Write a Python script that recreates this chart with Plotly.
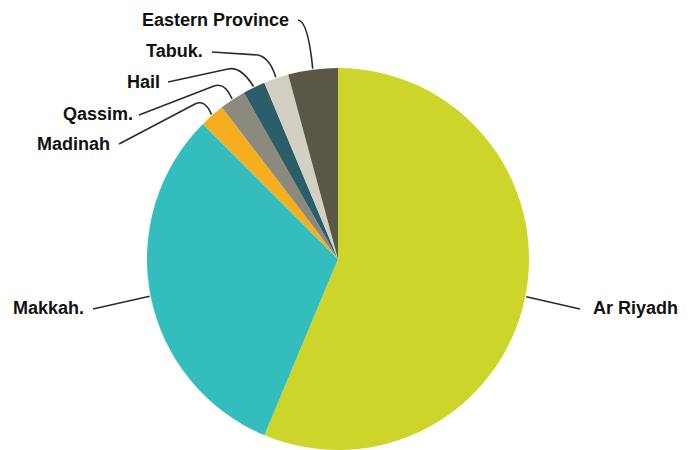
import math
import plotly.graph_objects as go

# ---- data ----
regions = ["Ar Riyadh", "Makkah.", "Madinah", "Qassim.", "Hail", "Tabuk.", "Eastern Province"]
shares = [56.3, 31.2, 2.1, 2.2, 1.9, 2.1, 4.2]
colors = ["#CDD42A", "#33BDBD", "#F5AE1E", "#8B8A7C", "#2C5E6A", "#D3D0C3", "#5B5747"]

# ---- layout constants (pixels) ----
W, H = 688, 450
CX, CY, R = 338, 259, 191

# label anchor (text end/start), side, and bend path points (pixels)
label_pos = {
    "Eastern Province": (289, 20, "right"),
    "Tabuk.": (203, 51, "right"),
    "Hail": (160, 82, "right"),
    "Qassim.": (133, 114, "right"),
    "Madinah": (110, 144, "right"),
    "Makkah.": (84, 308, "right"),
    "Ar Riyadh": (593, 308, "left"),
}
line_start = {
    "Eastern Province": [(298, 20), ("Q", 308, 21)],
    "Tabuk.": [(212, 52), ("L", 258, 55), ("Q", 270, 58)],
    "Hail": [(168, 82), ("L", 228, 69), ("Q", 241, 66)],
    "Qassim.": [(139, 115), ("L", 214, 86), ("Q", 225, 82)],
    "Madinah": [(119, 144), ("L", 195, 104), ("Q", 205, 99)],
    "Makkah.": [(93, 309)],
    "Ar Riyadh": [(580, 309)],
}


def px(x):
    return x / W


def py(y):
    return 1 - y / H


fig = go.Figure(go.Pie(
    labels=regions,
    values=shares,
    sort=False,
    direction="clockwise",
    rotation=0,
    marker=dict(colors=colors, line=dict(width=0)),
    textinfo="none",
    showlegend=False,
    domain=dict(x=[0, (2 * CX) / W], y=[0, 1 - (CY - R) / H]),
))

# edge points of slices from data
total = sum(shares)
edge = {}
acc = 0
for name, v in zip(regions, shares):
    mid = (acc + v / 2) / total * 2 * math.pi
    acc += v
    edge[name] = (CX + (R + 1) * math.sin(mid), CY - (R + 1) * math.cos(mid))

shapes = []
annotations = []
for name in regions:
    pts = line_start[name]
    ex, ey = edge[name]
    x0, y0 = pts[0]
    path = f"M {px(x0)},{py(y0)}"
    for seg in pts[1:]:
        if seg[0] == "L":
            path += f" L {px(seg[1])},{py(seg[2])}"
        else:
            path += f" Q {px(seg[1])},{py(seg[2])} "
            # continue the Q to the edge point
            path += f"{px(ex)},{py(ey)}"
    if not any(s[0] == "Q" for s in pts[1:]):
        path += f" L {px(ex)},{py(ey)}"
    shapes.append(dict(type="path", xref="paper", yref="paper", path=path,
                       line=dict(color="#2b2b2b", width=1.6)))
    lx, ly, side = label_pos[name]
    annotations.append(dict(
        x=px(lx), y=py(ly), xref="paper", yref="paper",
        text=name, showarrow=False, xanchor=side, yanchor="middle",
        borderpad=0, borderwidth=0,
        font=dict(family="Liberation Sans, Arial, sans-serif", size=18, color="#111111", weight="bold"),
    ))

fig.update_layout(
    width=W, height=H,
    margin=dict(l=0, r=0, t=0, b=0),
    paper_bgcolor="white",
    plot_bgcolor="white",
    shapes=shapes,
    annotations=annotations,
)

fig.write_html("out.html")
